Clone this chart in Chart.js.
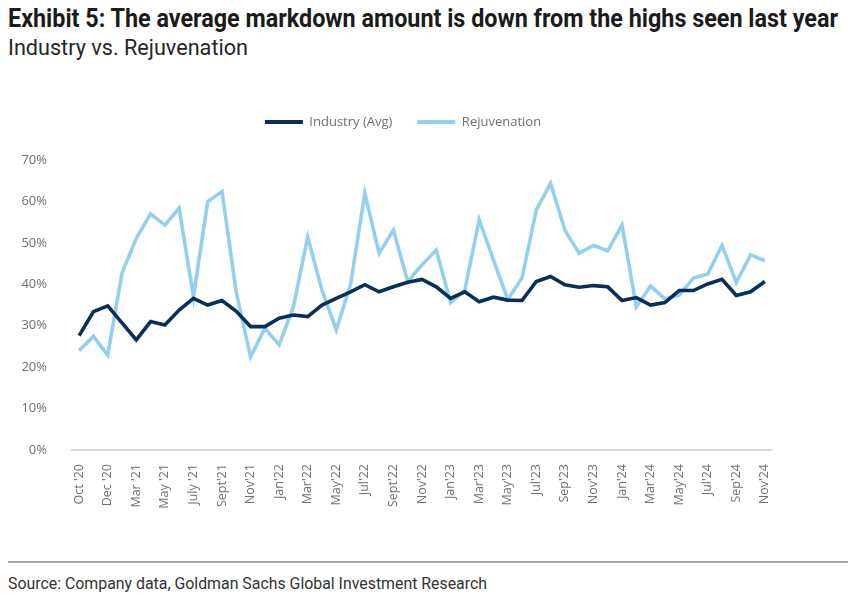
<!DOCTYPE html>
<html><head><meta charset="utf-8">
<script src="https://cdn.jsdelivr.net/npm/chart.js@4"></script>
<style>
body{margin:0;background:#fff;width:848px;height:602px;overflow:hidden;position:relative;font-family:"Roboto","Liberation Sans",sans-serif;}
.t{position:absolute;left:8px;white-space:nowrap;transform-origin:0 0;color:#1b1b1b}
#title{top:4px;font-size:25px;font-weight:bold;}
#sub{top:35px;font-size:22px;color:#262626}
#rule{position:absolute;left:8px;right:0;top:561px;height:2px;background:#a8a8a8}
#src{top:574px;font-size:16px;color:#333}
#wrap{position:absolute;left:0;top:90px;width:848px;height:430px}
</style></head>
<body>
<div id="title" class="t" data-w="830">Exhibit 5: The average markdown amount is down from the highs seen last year</div>
<div id="sub" class="t" data-w="240">Industry vs. Rejuvenation</div>
<div id="wrap"><canvas id="c"></canvas></div>
<div id="rule"></div>
<div id="src" class="t" data-w="479">Source: Company data, Goldman Sachs Global Investment Research</div>
<script>
const months = ["Oct '20","Nov '20","Dec '20","Feb '21","Mar '21","Apr '21","May '21","Jun '21","July '21","Aug '21","Sept'21","Oct'21","Nov'21","Dec'21","Jan'22","Feb'22","Mar'22","Apr'22","May'22","Jun'22","Jul'22","Aug'22","Sept'22","Oct'22","Nov'22","Dec'22","Jan'23","Feb'23","Mar'23","Apr'23","May'23","Jun'23","Jul'23","Aug'23","Sep'23","Oct'23","Nov'23","Dec'23","Jan'24","Feb'24","Mar'24","Apr'24","May'24","Jun'24","Jul'24","Aug'24","Sep'24","Oct'24","Nov'24"];
const industryAvg = [27.6,33.4,34.8,30.7,26.6,31.0,30.2,33.8,36.6,35.0,36.1,33.5,29.8,29.8,31.8,32.6,32.2,35.0,36.6,38.2,39.9,38.2,39.4,40.5,41.2,39.4,36.6,38.2,35.8,36.9,36.2,36.1,40.7,41.9,39.9,39.3,39.7,39.4,36.1,36.8,35.0,35.6,38.5,38.5,40.1,41.2,37.3,38.2,40.7];
const rejuvenation = [24.0,27.4,22.9,42.7,51.1,57.0,54.3,58.4,37.0,60.0,62.4,38.0,22.5,29.4,25.4,34.6,51.4,38.6,29.0,40.0,62.0,47.5,53.1,40.7,44.7,48.3,35.6,38.6,55.6,45.9,36.4,41.5,58.0,64.4,53.1,47.5,49.4,48.1,54.3,34.6,39.6,36.5,37.4,41.5,42.5,49.4,40.4,47.1,45.7];
const yTicks = [0,10,20,30,40,50,60,70];

document.querySelectorAll('.t').forEach(el=>{
  const w = el.getBoundingClientRect().width;
  el.style.transform = 'scaleX(' + (parseFloat(el.dataset.w)/w) + ')';
});

const fam = "'Open Sans', Lato, sans-serif";
const tickFont = {family:fam, size:12.5};
const gray = '#707070';
const chart = new Chart(document.getElementById('c'), {
  type:'line',
  data:{labels:months, datasets:[
    {label:'Industry (Avg)', data:industryAvg, borderColor:'#0a2f57', backgroundColor:'#0a2f57', borderWidth:3.6, pointRadius:0, tension:0},
    {label:'Rejuvenation', data:rejuvenation, borderColor:'#93d0ee', backgroundColor:'#93d0ee', borderWidth:3.6, pointRadius:0, tension:0}
  ]},
  options:{
    responsive:true, maintainAspectRatio:false, animation:false,
    layout:{padding:{left:0,right:42,top:0.5,bottom:0}},
    plugins:{
      tooltip:{enabled:false},
      title:{display:true, text:'', weight:500, padding:0, font:{size:18, lineHeight:1.2}},
      legend:{position:'top', labels:{boxWidth:38, boxHeight:4, padding:25, color:gray, font:{family:fam, size:13},
        generateLabels:(ch)=>Chart.defaults.plugins.legend.labels.generateLabels(ch).map(l=>Object.assign(l,{lineWidth:0}))}}
    },
    scales:{
      x:{offset:true, afterFit:s=>{s.height=70;}, grid:{display:false}, border:{display:true,color:'#d9d9d9',width:2},
         ticks:{autoSkip:false, maxRotation:90, minRotation:90, color:gray, font:tickFont, padding:6,
           callback:function(v,i){return i%2===0 ? this.getLabelForValue(v) : '';}}},
      y:{min:0,max:70, afterFit:s=>{s.width=72;}, grid:{display:false}, border:{display:false},
         afterBuildTicks:s=>{s.ticks=yTicks.map(v=>({value:v}));},
         ticks:{color:gray, font:{family:fam, size:13}, padding:17, callback:v=>v+'%'}},
      y2:{position:'right', display:true, afterFit:s=>{s.width=34;}, grid:{display:false}, border:{display:false}, ticks:{display:false}}
    }
  }
});
</script>
</body></html>
